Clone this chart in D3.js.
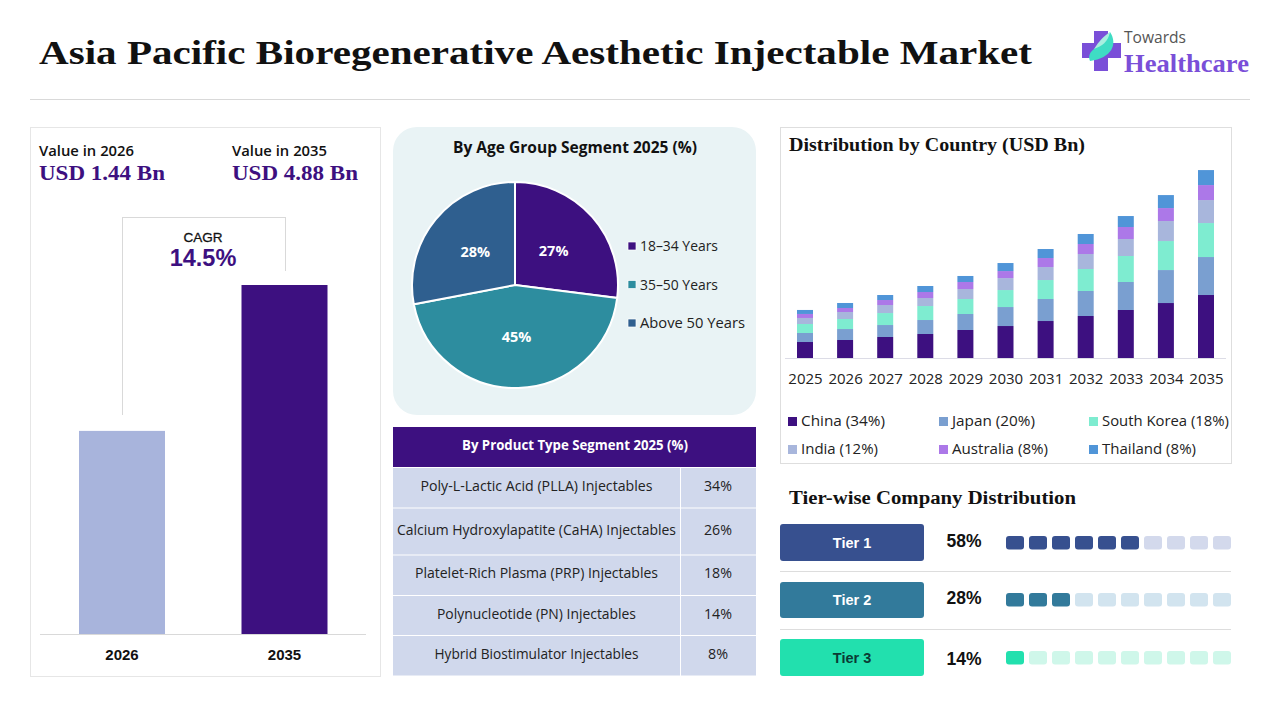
<!DOCTYPE html>
<html>
<head>
<meta charset="utf-8">
<title>Asia Pacific Bioregenerative Aesthetic Injectable Market</title>
<script src="https://cdn.jsdelivr.net/npm/d3@7"></script>
<style>
  html, body { margin: 0; padding: 0; background: #fff; }
  svg { display: block; }
  text { font-family: "Open Sans", sans-serif; fill: #1c1c1c; }
  .serif { font-family: "Liberation Serif", serif; font-weight: 700; }
  .arial { font-family: "Liberation Sans", sans-serif; }
  .domain { display: none; }
</style>
</head>
<body>
<div id="chart"></div>
<script>
// Data -------------------------------------
var valueYears = ['2026', '2035'];
var valueLabels = ['USD 1.44 Bn', 'USD 4.88 Bn'];
// bar levels as drawn in the picture (the 2026 bar is not to scale with its label)
var valueBarLevels = [2.84, 4.88];
var cagrLabel = '14.5%';

var ageGroups = ['18–34 Years', '35–50 Years', 'Above 50 Years'];
var ageShares = [27, 45, 28];

var productTypes = [
  'Poly-L-Lactic Acid (PLLA) Injectables',
  'Calcium Hydroxylapatite (CaHA) Injectables',
  'Platelet-Rich Plasma (PRP) Injectables',
  'Polynucleotide (PN) Injectables',
  'Hybrid Biostimulator Injectables'
];
var productShares = [34, 26, 18, 14, 8];

var years = ['2025', '2026', '2027', '2028', '2029', '2030', '2031', '2032', '2033', '2034', '2035'];
var countries = ['China', 'Japan', 'South Korea', 'India', 'Australia', 'Thailand'];
var countryShares = [34, 20, 18, 12, 8, 8];
var china = [0.415, 0.467, 0.545, 0.623, 0.727, 0.830, 0.960, 1.090, 1.246, 1.427, 1.635];
var japan = [0.234, 0.285, 0.311, 0.363, 0.415, 0.493, 0.571, 0.649, 0.727, 0.856, 0.986];
var southKorea = [0.234, 0.260, 0.311, 0.363, 0.389, 0.441, 0.493, 0.571, 0.675, 0.753, 0.882];
var india = [0.156, 0.182, 0.208, 0.208, 0.260, 0.311, 0.337, 0.389, 0.441, 0.519, 0.597];
var australia = [0.104, 0.104, 0.130, 0.156, 0.182, 0.182, 0.234, 0.260, 0.311, 0.337, 0.389];
var thailand = [0.104, 0.130, 0.130, 0.156, 0.156, 0.208, 0.234, 0.260, 0.285, 0.337, 0.389];

var tiers = ['Tier 1', 'Tier 2', 'Tier 3'];
var tierShares = [58, 28, 14];
var tierFilled = [6, 3, 1];

// Colors -------------------------------------
var purple = '#3d1080';
var countryColors = ['#3d1080', '#7a9fd0', '#7eecd0', '#a8b6dc', '#ac78e8', '#5095d8'];
var ageColors = ['#3d1080', '#2d8d9f', '#2f5f8f'];
var tierColors = ['#37508f', '#327a9b', '#22e0ae'];
var tierPale = ['#d3d9ec', '#d2e4ef', '#cff7ea'];

var svg = d3.select('#chart').append('svg')
  .attr('width', 1280)
  .attr('height', 720);

// small helper for the many text labels
var label = function(parent, x, y, str, size, opts) {
  opts = opts || {};
  var t = parent.append('text')
    .attr('x', x)
    .attr('y', y)
    .attr('font-size', size)
    .attr('text-anchor', opts.anchor || 'start')
    .text(str);
  if (opts.cls) t.attr('class', opts.cls);
  if (opts.weight) t.attr('font-weight', opts.weight);
  if (opts.fill) t.style('fill', opts.fill);
  if (opts.width) t.attr('textLength', opts.width).attr('lengthAdjust', 'spacingAndGlyphs');
  return t;
};

var hline = function(x1, x2, y, color) {
  svg.append('line').attr('x1', x1).attr('x2', x2).attr('y1', y).attr('y2', y).attr('stroke', color);
};
var vline = function(x, y1, y2, color) {
  svg.append('line').attr('x1', x).attr('x2', x).attr('y1', y1).attr('y2', y2).attr('stroke', color);
};

// Header -------------------------------------
label(svg, 39, 64, 'Asia Pacific Bioregenerative Aesthetic Injectable Market', 34, {cls: 'serif', fill: '#111', width: 993});
hline(30, 1250, 99.5, '#d9d9d9');

// Logo
var logo = svg.append('g');
logo.append('path')
  .attr('d', 'M1094 31H1108V43H1121V58H1108V71H1094V58H1082V43H1094Z')
  .attr('fill', '#7a4fd8');
logo.append('path')
  .attr('d', 'M1110 32C1118 44 1112 58 1090 61C1088 56 1090 52 1094 49C1100 45 1107 40 1110 32Z')
  .attr('fill', '#3fdcc4');
logo.append('path')
  .attr('d', 'M1110 32C1108 42 1102 46 1094 49C1099 41 1104 36 1110 32Z')
  .attr('fill', '#a8efe0');
label(logo, 1124, 43, 'Towards', 15.5, {fill: '#555', width: 62});
label(logo, 1124, 72, 'Healthcare', 26, {cls: 'serif', fill: '#7a4fd8', width: 125});

// Value card -------------------------------------
svg.append('rect').attr('x', 30.5).attr('y', 127.5).attr('width', 350).attr('height', 549)
  .attr('fill', '#fff').attr('stroke', '#e6e6e6');

var valueX = [39, 232];
valueYears.forEach(function(year, i) {
  label(svg, valueX[i], 156, 'Value in ' + year, 14, {weight: 600, fill: '#111', width: 95});
  label(svg, valueX[i], 180, valueLabels[i], 20, {cls: 'serif', fill: purple, width: 126});
});

// CAGR bracket
vline(122.5, 217, 415, '#d9d9d9');
hline(122.5, 285.5, 217.5, '#d9d9d9');
vline(285.5, 217, 271, '#d9d9d9');
label(svg, 203, 242, 'CAGR', 13.5, {anchor: 'middle', cls: 'arial', fill: '#111'}).attr('stroke', '#111').attr('stroke-width', 0.3);
label(svg, 203, 266, cagrLabel, 23.5, {anchor: 'middle', cls: 'arial', weight: 700, fill: purple});

var valueXScale = d3.scalePoint().domain(valueYears).range([122, 284.5]);
var valueYScale = d3.scaleLinear().domain([0, 4.88]).range([634, 285]);
svg.selectAll('.value-bar')
  .data(valueYears)
  .enter()
  .append('rect')
  .attr('class', 'value-bar')
  .attr('x', function(d) { return valueXScale(d) - 43; })
  .attr('width', 86)
  .attr('y', function(d, i) { return valueYScale(valueBarLevels[i]); })
  .attr('height', function(d, i) { return 634 - valueYScale(valueBarLevels[i]); })
  .attr('fill', function(d, i) { return ['#a8b4dc', purple][i]; });
hline(40, 366, 634.5, '#d9d9d9');
valueYears.forEach(function(year) {
  label(svg, valueXScale(year), 660, year, 15, {anchor: 'middle', cls: 'arial', weight: 700, fill: '#111'});
});

// Pie card -------------------------------------
svg.append('rect').attr('x', 393).attr('y', 127).attr('width', 363).attr('height', 288).attr('rx', 24)
  .attr('fill', '#e9f3f5');
label(svg, 575, 153, 'By Age Group Segment 2025 (%)', 15.5, {anchor: 'middle', weight: 700, fill: '#111', width: 244});

var pieG = svg.append('g').attr('transform', 'translate(515,285)');
var pie = d3.pie().sort(null);
var arc = d3.arc().innerRadius(0).outerRadius(103);
var labelArc = d3.arc().innerRadius(51.5).outerRadius(51.5);
pieG.selectAll('path')
  .data(pie(ageShares))
  .enter()
  .append('path')
  .attr('d', arc)
  .attr('fill', function(d, i) { return ageColors[i]; })
  .attr('stroke', '#fff')
  .attr('stroke-width', 2);
pieG.selectAll('text')
  .data(pie(ageShares))
  .enter()
  .append('text')
  .attr('transform', function(d) { return 'translate(' + labelArc.centroid(d) + ')'; })
  .attr('text-anchor', 'middle')
  .attr('dy', '0.35em')
  .attr('font-size', 14.5)
  .attr('font-weight', 700)
  .style('fill', '#fff')
  .text(function(d) { return d.value + '%'; });

var ageLegendY = d3.scalePoint().domain(ageGroups).range([246, 323]);
ageGroups.forEach(function(name, i) {
  svg.append('rect').attr('x', 628).attr('y', ageLegendY(name) - 4).attr('width', 8).attr('height', 8)
    .attr('fill', ageColors[i]).attr('stroke', '#fff').attr('stroke-width', 0.7);
  label(svg, 640, ageLegendY(name) + 5, name, 14, {fill: '#222', width: [78, 78, 105][i]});
});

// Product table -------------------------------------
var rowEdges = [467, 507.5, 554.5, 595, 635, 675.5];
svg.append('rect').attr('x', 393).attr('y', 427).attr('width', 363).attr('height', 40).attr('fill', purple);
label(svg, 575, 450, 'By Product Type Segment 2025 (%)', 13.5, {anchor: 'middle', weight: 700, fill: '#fff', width: 226});

var productWidths = [232, 279, 243, 199, 204];
productTypes.forEach(function(name, i) {
  var y0 = rowEdges[i];
  var y1 = rowEdges[i + 1];
  var mid = (y0 + y1) / 2 + 3.5;
  svg.append('rect').attr('x', 393).attr('y', y0 + 1).attr('width', 287).attr('height', y1 - y0 - 1).attr('fill', '#d0d8ec');
  svg.append('rect').attr('x', 681).attr('y', y0 + 1).attr('width', 75).attr('height', y1 - y0 - 1).attr('fill', '#d0d8ec');
  label(svg, 536.5, mid, name, 14, {anchor: 'middle', fill: '#222', width: productWidths[i]});
  label(svg, 718, mid, productShares[i] + '%', 14, {anchor: 'middle', fill: '#222', width: i == 4 ? 20 : 28});
});

// Stacked bars by country -------------------------------------
svg.append('rect').attr('x', 780.5).attr('y', 127.5).attr('width', 451).attr('height', 336)
  .attr('fill', '#fff').attr('stroke', '#dedede');
label(svg, 789, 151, 'Distribution by Country (USD Bn)', 18, {cls: 'serif', fill: '#111', width: 296});

var countryValues = [china, japan, southKorea, india, australia, thailand];
var rows = years.map(function(year, i) {
  var row = {year: year};
  countries.forEach(function(c, j) { row[c] = countryValues[j][i]; });
  return row;
});
var stack = d3.stack().keys(countries)(rows);
var xBar = d3.scalePoint().domain(years).range([805, 1206]);
var yBar = d3.scaleLinear().domain([0, 4.88]).range([358, 170]);

svg.selectAll('.layer')
  .data(stack)
  .enter()
  .append('g')
  .attr('class', 'layer')
  .attr('fill', function(d, i) { return countryColors[i]; })
  .selectAll('rect')
  .data(function(d) { return d; })
  .enter()
  .append('rect')
  .attr('x', function(d) { return xBar(d.data.year) - 8; })
  .attr('width', 16)
  .attr('y', function(d) { return yBar(d[1]); })
  .attr('height', function(d) { return yBar(d[0]) - yBar(d[1]); });
hline(785, 1226, 358.5, '#dcdce6');

svg.append('g')
  .attr('transform', 'translate(0,358)')
  .call(d3.axisBottom(xBar).tickSize(0).tickPadding(15))
  .selectAll('text')
  .attr('font-size', 15)
  .style('font-family', '"Open Sans", sans-serif')
  .style('fill', '#222');

var legendX = [788, 939, 1089];
var legendY = [421, 449];
countries.forEach(function(name, i) {
  var x = legendX[i % 3];
  var y = legendY[Math.floor(i / 3)];
  svg.append('rect').attr('x', x).attr('y', y - 4).attr('width', 9).attr('height', 9).attr('fill', countryColors[i]);
  label(svg, x + 13, y + 5, name + ' (' + countryShares[i] + '%)', 14, {fill: '#222', width: [84, 83, 127, 77, 96, 94][i]});
});

// Tier distribution -------------------------------------
label(svg, 789, 504, 'Tier-wise Company Distribution', 18, {cls: 'serif', fill: '#111', width: 287});

var tierTop = [524, 582, 639];
var tierHeight = [37, 36, 37];
var tierPctY = [547, 604, 665];
var tierDotY = [536, 593, 651];
var dotX = d3.scaleBand().domain(d3.range(10)).range([1006, 1231]).paddingInner(5 / 23).paddingOuter(0);

tiers.forEach(function(name, i) {
  svg.append('rect').attr('x', 780).attr('y', tierTop[i]).attr('width', 144).attr('height', tierHeight[i]).attr('rx', 3)
    .attr('fill', tierColors[i]);
  label(svg, 852, tierTop[i] + tierHeight[i] / 2 + 5, name, 14.5, {anchor: 'middle', cls: 'arial', weight: 700, fill: i == 2 ? '#0b3a34' : '#fff'});
  label(svg, 964, tierPctY[i], tierShares[i] + '%', 17.5, {anchor: 'middle', cls: 'arial', weight: 700, fill: '#111'});
  svg.append('g').selectAll('rect')
    .data(d3.range(10))
    .enter()
    .append('rect')
    .attr('x', function(d) { return dotX(d); })
    .attr('y', tierDotY[i])
    .attr('width', dotX.bandwidth())
    .attr('height', 13.5)
    .attr('rx', 3)
    .attr('fill', function(d) { return d < tierFilled[i] ? tierColors[i] : tierPale[i]; });
});
hline(780, 1231, 571.5, '#dddddd');
hline(780, 1231, 629.5, '#dddddd');
</script>
</body>
</html>
